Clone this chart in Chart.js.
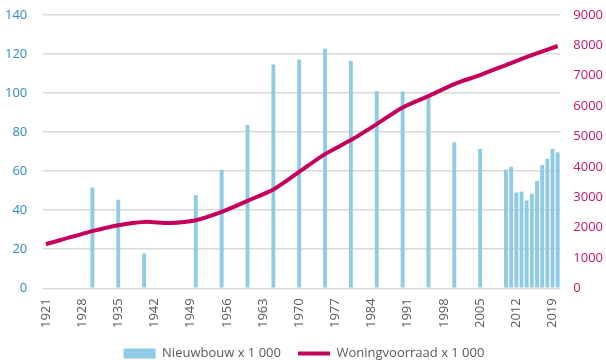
<!DOCTYPE html>
<html>
<head>
<meta charset="utf-8">
<script src="https://cdn.jsdelivr.net/npm/chart.js@4"></script>
<style>
  html, body { margin: 0; padding: 0; background: #fff; overflow: hidden; }
  #wrap { width: 606px; height: 370px; position: relative; }
</style>
</head>
<body>
<div id="wrap"><canvas id="woningen"></canvas></div>
<script>
//Data
var firstYear = 1921;
var lastYear = 2020;

// nieuwbouw (x 1 000)
var buildYears = [1930, 1935, 1940, 1950, 1955, 1960, 1965, 1970, 1975, 1980, 1985, 1990, 1995, 2000, 2005,
	2010, 2011, 2012, 2013, 2014, 2015, 2016, 2017, 2018, 2019, 2020];
var buildValues = [51.6, 45.4, 17.8, 47.6, 60.7, 83.7, 114.7, 117.2, 122.7, 116.4, 101.1, 100.8, 97.7, 74.8, 71.4,
	60.7, 62.3, 49.1, 49.6, 45.0, 48.4, 54.9, 63.2, 66.3, 71.4, 69.7];

// woningvoorraad (x 1 000)
var stockYears = [1921, 1930, 1935, 1940, 1945, 1950, 1955, 1960, 1965, 1970, 1975, 1980, 1985, 1990, 1995, 2000, 2005, 2010, 2015, 2020];
var stockValues = [1450, 1880, 2077, 2186, 2153, 2242, 2516, 2880, 3254, 3835, 4418, 4880, 5407, 5957, 6330, 6726, 7023, 7352, 7682, 7979];

var leftTicks = { min: 0, max: 140, step: 20 };
var rightTicks = { min: 0, max: 9000, step: 1000 };
var labelEvery = 7;

//Build category table
var years = [];
for (var y = firstYear; y <= lastYear; y++) {
	years.push(y);
}

function spreadOver(cats, xs, vs) {
	var out = cats.map(function() { return null; });
	for (var i = 0; i < xs.length; i++) {
		out[cats.indexOf(xs[i])] = vs[i];
	}
	return out;
}

var font = "'Open Sans', 'Noto Sans', sans-serif";

//Render chart
var chart = new Chart(document.getElementById('woningen'), {
	type: 'bar',
	data: {
		labels: years,
		datasets: [{
			type: 'bar',
			label: 'Nieuwbouw x 1 000',
			data: spreadOver(years, buildYears, buildValues),
			yAxisID: 'y',
			backgroundColor: '#8FCAE6',
			borderWidth: 0,
			barPercentage: 0.75,
			categoryPercentage: 1,
			pointStyle: 'rect',
			order: 1
		},{
			type: 'line',
			label: 'Woningvoorraad x 1 000',
			data: spreadOver(years, stockYears, stockValues),
			yAxisID: 'y2',
			borderColor: '#C5005C',
			backgroundColor: '#C5005C',
			borderWidth: 4,
			pointRadius: 0,
			pointHoverRadius: 0,
			pointStyle: 'line',
			spanGaps: true,
			tension: 0.25,
			order: 0
		}]
	},
	options: {
		responsive: true,
		maintainAspectRatio: false,
		animation: false,
		layout: {
			padding: { top: 15, left: 3, right: 1, bottom: 0 }
		},
		scales: {
			x: {
				grid: { display: false },
				border: { display: false },
				ticks: {
					autoSkip: false,
					minRotation: 90,
					maxRotation: 90,
					padding: 2,
					color: '#595959',
					font: { family: font, size: 13 },
					callback: function(val, i) {
						return i % labelEvery === 0 ? this.getLabelForValue(val) : null;
					}
				}
			},
			y: {
				position: 'left',
				min: leftTicks.min,
				max: leftTicks.max,
				border: { display: false },
				// invisible tick marks keep the labels away from the plot
				grid: { color: '#D9D9D9', lineWidth: 1.5, drawTicks: true, tickLength: 14, tickColor: 'rgba(0,0,0,0)' },
				ticks: {
					stepSize: leftTicks.step,
					padding: 2,
					color: '#2F8AC6',
					font: { family: font, size: 13 }
				}
			},
			y2: {
				position: 'right',
				min: rightTicks.min,
				max: rightTicks.max,
				border: { display: false },
				grid: { drawOnChartArea: false, drawTicks: true, tickLength: 11, tickColor: 'rgba(0,0,0,0)' },
				ticks: {
					stepSize: rightTicks.step,
					padding: 2,
					color: '#C0186A',
					font: { family: font, size: 13 },
					callback: function(val) { return String(val); }
				}
			}
		},
		plugins: {
			tooltip: { enabled: false },
			legend: {
				position: 'bottom',
				labels: {
					usePointStyle: true,
					pointStyleWidth: 32,
					boxWidth: 32,
					boxHeight: 10,
					padding: 17,
					color: '#595959',
					font: { family: font, size: 13 },
					sort: function(a, b) { return a.datasetIndex - b.datasetIndex; }
				}
			}
		}
	}
});
</script>
</body>
</html>
